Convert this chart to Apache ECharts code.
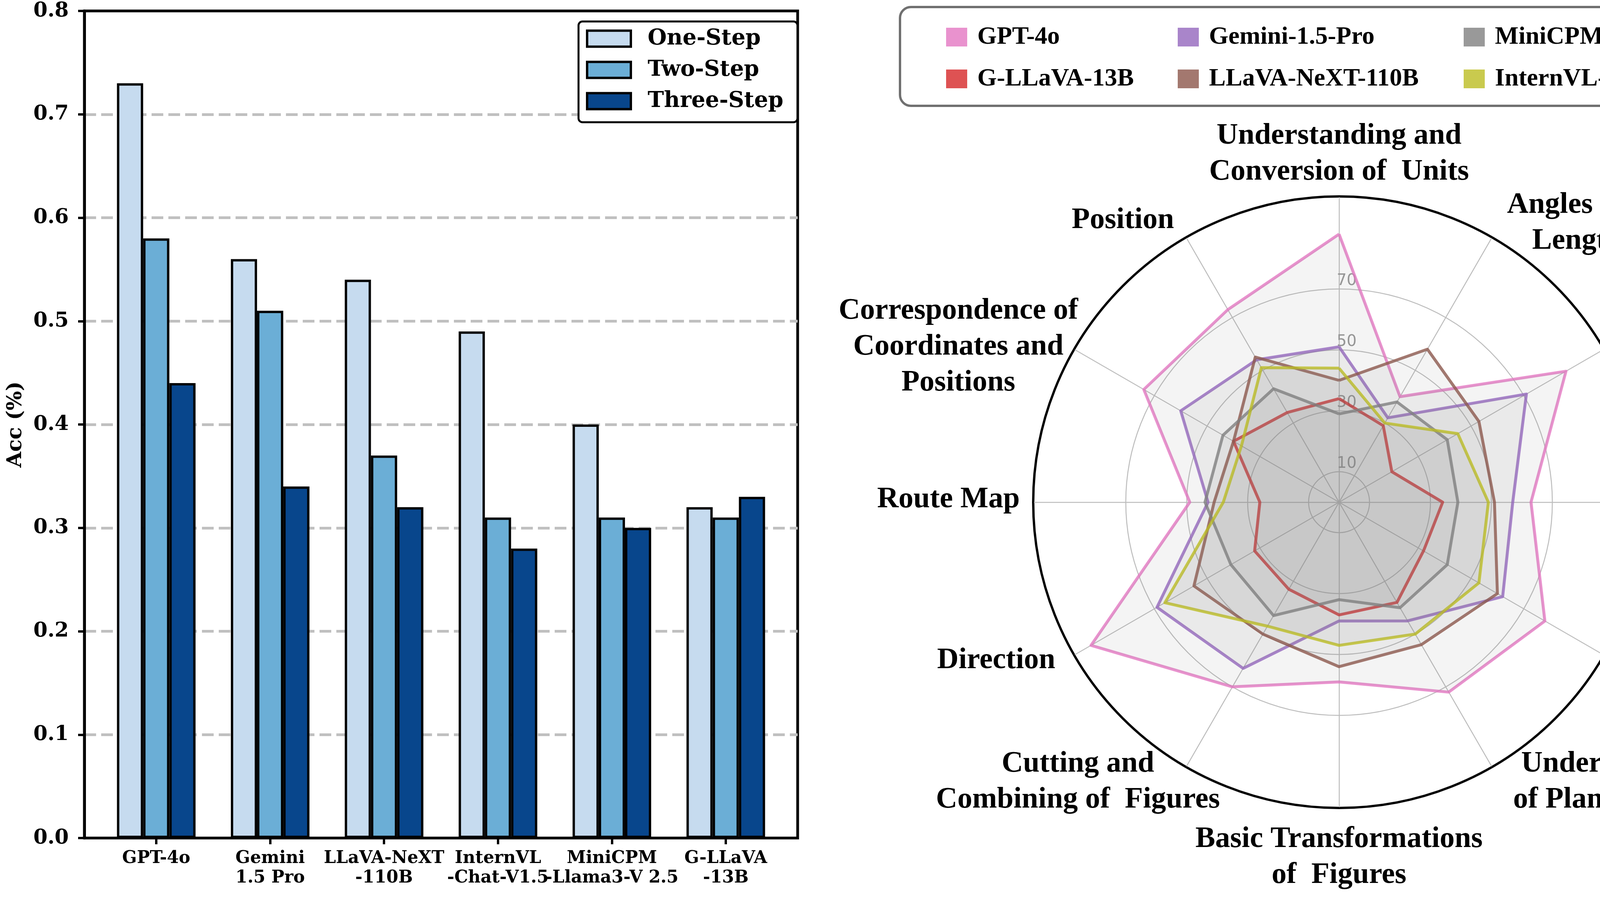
<!DOCTYPE html>
<html><head><meta charset="utf-8">
<script src="https://cdn.jsdelivr.net/npm/echarts/dist/echarts.min.js"></script>
<style>html,body{margin:0;padding:0;background:#fff}#c{width:6866px;height:2297px}</style>
</head><body><div id="c"></div>
<script>
// ---------------- Left panel: accuracy by reasoning steps ----------------
const stepModels = ['GPT-4o', 'Gemini\n1.5 Pro', 'LLaVA-NeXT\n-110B', 'InternVL\n-Chat-V1.5', 'MiniCPM\n-Llama3-V 2.5', 'G-LLaVA\n-13B'];
const stepNames = ['One-Step', 'Two-Step', 'Three-Step'];
const oneStep = [0.73, 0.56, 0.54, 0.49, 0.40, 0.32];
const twoStep = [0.58, 0.51, 0.37, 0.31, 0.31, 0.31];
const threeStep = [0.44, 0.34, 0.32, 0.28, 0.30, 0.33];
const accAxis = { min: 0, max: 0.8, interval: 0.1 };

// ---------------- Middle panel: radar (clockwise from top) ----------------
const radarDims = [
  'Understanding and\nConversion of  Units',
  'Angles and\nLength',
  'Calculation of\nSolid Figures',
  'Understanding\nof Solid Figures',
  'Calculation of\nPlane Figures',
  'Understanding\nof Plane Figures',
  'Basic Transformations\nof  Figures',
  'Cutting and\nCombining of  Figures',
  'Direction',
  'Route Map',
  'Correspondence of\nCoordinates and\nPositions',
  'Position'
];
const radarModels = ['GPT-4o', 'G-LLaVA-13B', 'Gemini-1.5-Pro', 'LLaVA-NeXT-110B', 'MiniCPM-Llama3-V 2.5', 'InternVL-Chat-V1.5'];
const radarGPT4o   = [88, 40, 86, 63, 78, 72, 59, 70, 94, 49, 74, 73];
const radarGLLaVA  = [34, 29, 20, 34, 32, 38, 37, 33, 32, 26, 40, 34];
const radarGemini  = [51, 32, 71, 57, 62, 45, 39, 63, 69, 43, 60, 54];
const radarLLaVA   = [40, 58, 53, 51, 60, 54, 54, 50, 55, 41, 40, 55];
const radarMiniCPM = [29, 38, 41, 39, 41, 40, 32, 43, 41, 44, 44, 43];
const radarIntern  = [44, 30, 45, 49, 53, 50, 47, 47, 66, 38, 37, 51];
const radarMax = 100;
const radarRingValues = [10, 30, 50, 70];

// ---------------- Right panel: error analysis ----------------
const errModels = ['GPT-4o', 'Gemini-1.5-Pro', 'LLaVA-NeXT-110B', 'InternVL-Chat-V1-5', 'MiniCPM-Llama3-V 2.5', 'G-LLaVA-13B'];
const errCategories = ['Insufficient\nKnowledge', 'Inadequate\nGeneralization', 'Complete Mastery\n(Rote Memorization)'];
const insufficientKnowledge = [164, 225, 264, 295, 316, 337];
const inadequateGeneralization = [80, 59, 76, 73, 48, 24];
const completeMastery = [278, 212, 161, 135, 105, 96];
const rmLoose = [3, 29, 24, 22, 38, 59];
const rmName = 'Number of RM(loose)';
const numAxis = { min: 0, max: 450, interval: 50 };

// ================= styling / layout =================
const W = 6866, H = 2297;
const MPL = 'DejaVu Serif';
const TIMES = 'Liberation Serif';
const leftColors = ['#c6dbef', '#6baed6', '#08468c'];
const errColors = ['#483d8b', '#6b60b4', '#847ec0', '#bbb5ec', '#dcd7f5', '#f2ecfb'];
const radarColors = ['rgba(227,119,194,0.8)', 'rgba(214,39,40,0.8)', 'rgba(148,103,189,0.8)',
                     'rgba(140,86,75,0.8)', 'rgba(127,127,127,0.8)', 'rgba(188,189,34,0.8)'];
const radarSeriesData = [radarGPT4o, radarGLLaVA, radarGemini, radarLLaVA, radarMiniCPM, radarIntern];

function makeHatch() {
  const S = 52;
  const cv = document.createElement('canvas');
  cv.width = S; cv.height = S;
  const g = cv.getContext('2d');
  g.fillStyle = '#eeeeee'; g.fillRect(0, 0, S, S);
  g.strokeStyle = '#000'; g.lineWidth = 3.5;
  for (let k = -1; k <= 1; k++) {
    g.beginPath(); g.moveTo(k * S, 0); g.lineTo(k * S + S, S); g.stroke();
  }
  return { image: cv, repeat: 'repeat' };
}
const hatch = makeHatch();

const gridLine = { show: true, showMinLine: false, showMaxLine: false, lineStyle: { color: '#c0c0c0', width: 7, type: [30, 13] } };
const tickStyle = { show: true, inside: false, length: 16, lineStyle: { color: '#000', width: 6 } };
const mplLabel = (size) => ({ fontFamily: MPL, fontWeight: 'bold', fontSize: size, color: '#000' });

const RC = [3428, 1286];
const RR = 780;
const ccwOrder = [0, 11, 10, 9, 8, 7, 6, 5, 4, 3, 2, 1];
const indicators = ccwOrder.map(i => ({ name: radarDims[i], min: 0, max: radarMax }));
const ringColors = [];
for (let i = 0; i <= 10; i++) ringColors.push(radarRingValues.includes(i * radarMax / 10) ? '#bdbdbd' : 'rgba(0,0,0,0)');

const mctx = document.createElement('canvas').getContext('2d');
mctx.font = 'bold 76px "' + TIMES + '"';
const blockW = t => Math.ceil(Math.max(...t.split('\n').map(l => mctx.measureText(l).width))) + 2;
const labelOffsets = [[0, 35], [11, 8], [7, 17], [-32, 8], [2, 3], [27, -7], [0, -18], [114, -7], [-2, -12], [19, -7], [56, 20], [-4, 1]];

const hidden = { show: false };
const radars = [
  {
    center: RC, radius: RR, startAngle: 90, shape: 'circle', splitNumber: 10, indicator: indicators,
    axisName: { show: false },
    axisLine: { show: true, lineStyle: { color: '#bdbdbd', width: 2.5 } },
    splitLine: { show: true, lineStyle: { color: ringColors, width: 2.5 } },
    splitArea: hidden, axisTick: hidden, axisLabel: hidden
  },
  {
    center: RC, radius: RR + 3, startAngle: 90, shape: 'circle', splitNumber: 1, indicator: indicators.map(d => ({ name: '', min: 0, max: radarMax })),
    axisName: { show: false }, axisLine: hidden,
    splitLine: { show: true, lineStyle: { color: ['rgba(0,0,0,0)', '#000'], width: 6 } },
    splitArea: hidden, axisTick: hidden, axisLabel: hidden
  },
  {
    center: RC, radius: RR, startAngle: 90, shape: 'circle', splitNumber: 10,
    indicator: [{ name: '', min: 0, max: radarMax }],
    axisName: { show: false }, axisLine: hidden, splitLine: hidden, splitArea: hidden, axisTick: hidden,
    axisLabel: { show: true, color: '#999', fontSize: 40, fontFamily: 'DejaVu Sans', margin: 6,
      align: 'left', verticalAlign: 'bottom',
      formatter: v => radarRingValues.includes(Math.round(v)) ? String(Math.round(v)) : '' }
  }
];
radarDims.forEach((dim, k) => {
  const off = labelOffsets[k];
  radars.push({
    center: [RC[0] + off[0], RC[1] + off[1]], radius: RR, startAngle: 90, shape: 'circle', splitNumber: 1,
    indicator: indicators, nameGap: 55,
    axisLine: hidden, splitLine: hidden, splitArea: hidden, axisTick: hidden, axisLabel: hidden,
    axisName: {
      show: true, color: '#000',
      formatter: (name) => name === dim ? name.split('\n').map(l => '{b|' + l + '}').join('\n') : '',
      rich: { b: { width: blockW(dim), align: 'center', fontSize: 76, fontWeight: 'bold', fontFamily: TIMES, lineHeight: 92, color: '#000' } }
    }
  });
});

const series = [];
[oneStep, twoStep, threeStep].forEach((d, i) => series.push({
  type: 'bar', name: stepNames[i], xAxisIndex: 0, yAxisIndex: 0, data: d,
  barGap: '0%', barCategoryGap: '31%',
  itemStyle: { color: leftColors[i], borderColor: '#000', borderWidth: 6 }
}));
errModels.forEach((m, i) => series.push({
  type: 'bar', name: m, xAxisIndex: 2, yAxisIndex: 2, stack: 's' + i,
  data: [insufficientKnowledge[i], inadequateGeneralization[i], completeMastery[i]],
  barGap: '0%', barCategoryGap: '23.5%',
  itemStyle: { color: errColors[i], borderColor: '#000', borderWidth: 6 }
}));
errModels.forEach((m, i) => series.push({
  type: 'bar', name: rmName, xAxisIndex: 2, yAxisIndex: 2, stack: 's' + i,
  data: [null, null, rmLoose[i]],
  barGap: '0%', barCategoryGap: '23.5%',
  itemStyle: { color: hatch, borderColor: '#000', borderWidth: 6 }
}));
radarModels.forEach((m, i) => series.push({
  type: 'radar', name: m, radarIndex: 0, symbol: 'none', z: 3,
  lineStyle: { color: radarColors[i], width: 7.5 },
  itemStyle: { color: radarColors[i] },
  areaStyle: { color: 'rgba(128,128,128,0.12)' },
  data: [{ name: m, value: ccwOrder.map(k => radarSeriesData[i][k]) }]
}));

const radarLegendItem = (n) => ({ name: n, itemStyle: { color: radarColors[radarModels.indexOf(n)], borderWidth: 0 } });
const radarLegendBase = {
  orient: 'vertical', top: 63, padding: 0, itemWidth: 54, itemHeight: 48, itemGap: 43, icon: 'rect', z: 6,
  selectedMode: false,
  textStyle: { fontFamily: TIMES, fontWeight: 'bold', fontSize: 64, color: '#000', padding: [0, 0, 0, 21] }
};
const errLegendBase = {
  orient: 'vertical', top: 60, padding: 0, itemWidth: 94, itemHeight: 34, itemGap: 21, icon: 'rect', z: 6,
  selectedMode: false, itemStyle: { borderWidth: 6, borderColor: '#000' },
  textStyle: { fontFamily: MPL, fontWeight: 'bold', fontSize: 44, color: '#000', padding: [0, 0, 0, 26] }
};
const legends = [
  {
    left: 1481, top: 55, orient: 'vertical', data: stepNames, icon: 'rect', selectedMode: false,
    itemWidth: 112, itemHeight: 41, itemGap: 24, padding: [16, 36, 26, 19],
    backgroundColor: '#fff', borderColor: '#000', borderWidth: 5, borderRadius: 10,
    itemStyle: { borderWidth: 6, borderColor: '#000' },
    textStyle: { fontFamily: MPL, fontWeight: 'bold', fontSize: 56, color: '#000', padding: [0, 0, 0, 38] }
  },
  {
    left: 5337, top: 45, data: [], padding: [135, 727, 135, 728], z: 3,
    backgroundColor: '#fff', borderColor: '#000', borderWidth: 5, borderRadius: 10
  },
  Object.assign({}, errLegendBase, { left: 5349, data: [errModels[0], errModels[1], errModels[2], rmName] }),
  Object.assign({}, errLegendBase, { left: 6086, data: [errModels[3], errModels[4], errModels[5]] }),
  {
    left: 2304, top: 18, data: [], padding: [126, 1140, 127, 1141], z: 3,
    backgroundColor: '#fff', borderColor: '#707070', borderWidth: 6, borderRadius: 28
  },
  Object.assign({}, radarLegendBase, { left: 2422, data: ['GPT-4o', 'G-LLaVA-13B'].map(radarLegendItem) }),
  Object.assign({}, radarLegendBase, { left: 3015, data: ['Gemini-1.5-Pro', 'LLaVA-NeXT-110B'].map(radarLegendItem) }),
  Object.assign({}, radarLegendBase, { left: 3747, data: ['MiniCPM-Llama3-V 2.5', 'InternVL-Chat-V1.5'].map(radarLegendItem) })
];

const option = {
  animation: false,
  backgroundColor: '#fff',
  grid: [
    { left: 254.2, right: W - 2003.8, top: 28, bottom: H - 2146, outerBoundsMode: 'none', containLabel: false },
    { left: 216, right: W - 2042, top: 28, bottom: H - 2146, show: true, borderColor: '#000', borderWidth: 7, backgroundColor: 'rgba(0,0,0,0)', outerBoundsMode: 'none', containLabel: false },
    { left: 4998, right: W - 6812, top: 26, bottom: H - 2125, show: true, borderColor: '#000', borderWidth: 7, backgroundColor: 'rgba(0,0,0,0)', outerBoundsMode: 'none', containLabel: false }
  ],
  xAxis: [
    { type: 'category', gridIndex: 0, data: stepModels, boundaryGap: true,
      axisLine: { show: false }, axisTick: Object.assign({ alignWithLabel: true }, tickStyle),
      axisLabel: Object.assign({ interval: 0, margin: 28, lineHeight: 50 }, mplLabel(44)), splitLine: { show: false } },
    { type: 'value', gridIndex: 1, show: false },
    { type: 'category', gridIndex: 2, data: errCategories, boundaryGap: true,
      axisLine: { show: true, lineStyle: { color: '#000', width: 7 } }, axisTick: Object.assign({ alignWithLabel: true }, tickStyle),
      axisLabel: Object.assign({ interval: 0, margin: 30, lineHeight: 61 }, mplLabel(53)), splitLine: { show: false } }
  ],
  yAxis: [
    { type: 'value', gridIndex: 0, min: accAxis.min, max: accAxis.max, interval: accAxis.interval, show: false },
    { type: 'value', gridIndex: 1, min: accAxis.min, max: accAxis.max, interval: accAxis.interval,
      axisLine: { show: true, lineStyle: { color: '#000', width: 7 } }, axisTick: tickStyle,
      axisLabel: Object.assign({ margin: 40, formatter: v => v.toFixed(1) }, mplLabel(52)),
      splitLine: gridLine,
      name: 'Acc (%)', nameLocation: 'middle', nameRotate: 90, nameGap: 150, nameTextStyle: mplLabel(52) },
    { type: 'value', gridIndex: 2, min: numAxis.min, max: numAxis.max, interval: numAxis.interval,
      axisLine: { show: true, lineStyle: { color: '#000', width: 7 } }, axisTick: tickStyle,
      axisLabel: Object.assign({ margin: 40 }, mplLabel(52)),
      splitLine: gridLine,
      name: 'Number', nameLocation: 'middle', nameRotate: 90, nameGap: 160, nameTextStyle: mplLabel(55) }
  ],
  radar: radars,
  legend: legends,
  series: series
};

const chart = echarts.init(document.getElementById('c'), null, { renderer: 'canvas', width: W, height: H });
chart.setOption(option);
</script>
</body></html>
